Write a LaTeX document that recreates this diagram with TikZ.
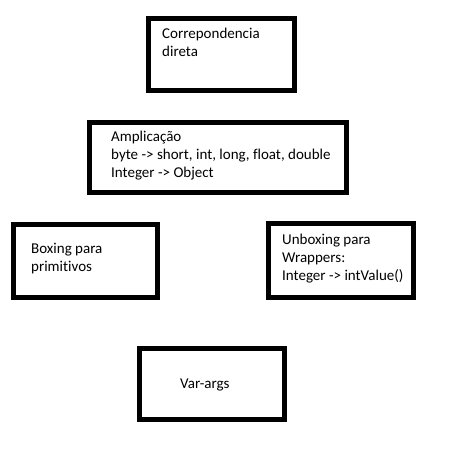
\documentclass[tikz,border=0pt]{standalone}
\usepackage{fontspec}
\setmainfont{Carlito}[Ligatures=CommonOff]
\begin{document}
\begin{tikzpicture}[x=1pt,y=-1pt,
  box/.style={draw=black,line width=5pt,fill=white,inner sep=0pt,line join=miter},
  txt/.style={anchor=base west,inner sep=0pt,font=\fontsize{15pt}{18pt}\selectfont}]
\useasboundingbox[fill=white] (0,0) rectangle (474,455);
% boxes
\node[box,minimum width=146pt,minimum height=72pt] (b1) at (221.5,54.5) {};
\node[box,minimum width=257pt,minimum height=70pt] (b2) at (218,157.5) {};
\node[box,minimum width=144pt,minimum height=73pt] (b3) at (85.5,261) {};
\node[box,minimum width=145pt,minimum height=74pt] (b4) at (341,260.5) {};
\node[box,minimum width=145pt,minimum height=71pt] (b5) at (212,384) {};
% texts
\node[txt] (t1a) at (162,38) {Correpondencia};
\node[txt] (t1b) at (162,56) {direta};
\node[txt] (t2a) at (111,141) {Amplicação};
\node[txt] (t2b) at (111,159) {byte -> short, int, long, float, double};
\node[txt] (t2c) at (111,177) {Integer -> Object};
\node[txt] (t3a) at (31,253) {Boxing para};
\node[txt] (t3b) at (31,271) {primitivos};
\node[txt] (t4a) at (282,244) {Unboxing para};
\node[txt] (t4b) at (282,262) {Wrappers:};
\node[txt] (t4c) at (282,280) {Integer -> intValue()};
\node[txt] (t5a) at (180,388) {Var-args};
\end{tikzpicture}
\end{document}
